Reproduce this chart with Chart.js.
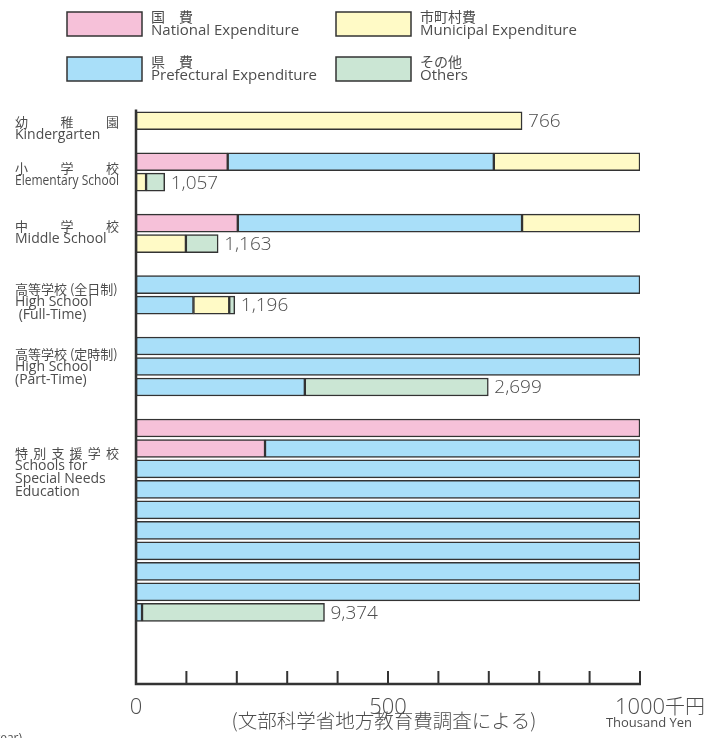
<!DOCTYPE html>
<html>
<head>
<meta charset="utf-8">
<script src="https://cdn.jsdelivr.net/npm/chart.js@4"></script>
<style>
  body { margin: 0; background: #fff; }
  canvas { display: block; }
</style>
</head>
<body>
<canvas id="chart" width="714" height="738"></canvas>
<script>
/* Data (千円 per pupil) */

const categories = ['幼稚園', '小学校', '中学校', '高等学校 (全日制)', '高等学校 (定時制)', '特別支援学校']
const categoriesEn = [
  ['Kindergarten'],
  ['Elementary School'],
  ['Middle School'],
  ['High School', ' (Full-Time)'],
  ['High School', '(Part-Time)'],
  ['Schools for', 'Special Needs', 'Education']
]
const national    = [0,   182, 202, 0,    0,    1256]
const prefectural = [0,   528, 564, 1114, 2335, 7756]
const municipal   = [766, 310, 333, 71,   0,    0]
const others      = [0,   37,  64,  11,   364,  362]
const totals      = [766, 1057, 1163, 1196, 2699, 9374]
const totalLabels = ['766', '1,057', '1,163', '1,196', '2,699', '9,374']
const xTicks      = [0, 100, 200, 300, 400, 500, 600, 700, 800, 900, 1000]
const xTickLabels = { 0: '0', 500: '500', 1000: '1000' }

const seriesNames = [
  ['国　費', 'National Expenditure'],
  ['県　費', 'Prefectural Expenditure'],
  ['市町村費', 'Municipal Expenditure'],
  ['その他', 'Others']
]
const seriesColors = ['#f6c1d9', '#a9dff9', '#fffac6', '#cbe6d4']

/* Rows: each bar is cut at 1000 and continues on the next row */

const rowWidth = 1000
const rowCounts = totals.map(t => Math.ceil(t / rowWidth))
const startSlots = []
let nextSlot = 0
rowCounts.forEach(n => {
  startSlots.push(nextSlot)
  nextSlot += n + 1
})
const slotCount = nextSlot + 2

const seriesValues = [national, prefectural, municipal, others]
const rowData = seriesValues.map(() => new Array(slotCount).fill(null))

categories.forEach((c, i) => {
  let slot = startSlots[i]
  let used = 0
  seriesValues.forEach((vals, s) => {
    let left = vals[i]
    while (left > 0) {
      const piece = Math.min(left, rowWidth - used)
      rowData[s][slot] = (rowData[s][slot] || 0) + piece
      left -= piece
      used += piece
      if (used >= rowWidth) { slot++; used = 0 }
    }
  })
})

/* Drawing */

const textColor = '#4d4d4d'
const lineColor = '#333'
const font = '"Open Sans", "Noto Sans CJK JP", sans-serif'
const jpFont = '"Noto Sans CJK JP", sans-serif'

const labelOffsets = [1, 6, 3, 4, 8, 25]   // first text line, from first row centre
const spreadLabel = [true, true, true, false, false, true]

function spreadText(ctx, text, x0, x1, y) {
  const chars = [...text]
  const w = ctx.measureText(chars[0]).width
  const step = (x1 - x0 - w) / (chars.length - 1)
  chars.forEach((ch, k) => ctx.fillText(ch, x0 + k * step, y))
}

const drawExtras = {
  id: 'drawExtras',
  afterDraw(chart) {
    const ctx = chart.ctx
    const xs = chart.scales.x
    const ys = chart.scales.y
    const area = chart.chartArea
    const x0 = xs.getPixelForValue(0)
    ctx.save()

    // axes
    ctx.strokeStyle = lineColor
    ctx.lineWidth = 2.5
    ctx.beginPath()
    ctx.moveTo(x0, area.top - 1)
    ctx.lineTo(x0, area.bottom)
    ctx.lineTo(xs.getPixelForValue(1000) + 1, area.bottom)
    ctx.stroke()
    ctx.lineWidth = 2
    xTicks.forEach(v => {
      const px = xs.getPixelForValue(v)
      ctx.beginPath()
      ctx.moveTo(px, area.bottom)
      ctx.lineTo(px, area.bottom - 13)
      ctx.stroke()
    })

    // tick labels
    ctx.fillStyle = textColor
    ctx.textBaseline = 'middle'
    ctx.font = '300 22px ' + font
    ctx.textAlign = 'center'
    Object.keys(xTickLabels).forEach(v => {
      ctx.fillText(xTickLabels[v], xs.getPixelForValue(+v), area.bottom + 24)
    })
    const w1000 = ctx.measureText('1000').width
    ctx.textAlign = 'left'
    ctx.font = '300 20px ' + jpFont
    ctx.fillText('千円', xs.getPixelForValue(1000) + w1000 / 2, area.bottom + 22)
    ctx.font = '13px ' + font
    ctx.textAlign = 'center'
    ctx.fillText('Thousand Yen', 649, area.bottom + 39)
    ctx.font = '300 19.5px ' + jpFont
    ctx.fillText('(文部科学省地方教育費調査による)', 384, area.bottom + 37)
    ctx.font = '12px ' + font
    ctx.textAlign = 'right'
    ctx.fillText('year)', 22, 739)

    // category labels
    ctx.textAlign = 'left'
    categories.forEach((c, i) => {
      let y = ys.getPixelForValue(startSlots[i]) + labelOffsets[i]
      ctx.font = '13px ' + jpFont
      if (spreadLabel[i]) spreadText(ctx, c, 15, 119, y)
      else ctx.fillText(c, 15, y, 106)
      ctx.font = '14px ' + font
      categoriesEn[i].forEach(line => {
        y += 13
        ctx.fillText(line, 15, y, 104)
      })
    })

    // totals
    ctx.font = '300 19px ' + font
    categories.forEach((c, i) => {
      const lastSlot = startSlots[i] + rowCounts[i] - 1
      const rest = totals[i] - (rowCounts[i] - 1) * rowWidth
      ctx.fillText(totalLabels[i], xs.getPixelForValue(rest) + 6, ys.getPixelForValue(lastSlot) + 1)
    })

    // legend
    const legendPos = [[67, 12], [67, 57], [336, 12], [336, 57]]
    seriesNames.forEach((names, s) => {
      const [lx, ly] = legendPos[s]
      ctx.fillStyle = seriesColors[s]
      ctx.fillRect(lx, ly, 75, 24)
      ctx.strokeStyle = lineColor
      ctx.lineWidth = 1.5
      ctx.strokeRect(lx, ly, 75, 24)
      ctx.fillStyle = textColor
      ctx.font = '14px ' + jpFont
      ctx.fillText(names[0], lx + 84, ly + 5)
      ctx.font = '15px ' + font
      ctx.fillText(names[1], lx + 84, ly + 19)
    })
    ctx.restore()
  }
}

const ctx = document.getElementById('chart').getContext('2d')
const myChart = new Chart(ctx, {
  type: 'bar',
  data: {
    labels: rowData[0].map((v, k) => 'row' + k),
    datasets: seriesValues.map((v, s) => ({
      label: seriesNames[s][1],
      data: rowData[s],
      backgroundColor: seriesColors[s],
      borderColor: lineColor,
      borderWidth: 1.5,
      borderSkipped: false,
      barThickness: 18
    }))
  },
  options: {
    indexAxis: 'y',
    responsive: false,
    animation: false,
    layout: {
      padding: { left: 136, right: 74, top: 110.5, bottom: 54 }
    },
    plugins: {
      legend: { display: false },
      tooltip: { enabled: false }
    },
    scales: {
      x: { type: 'linear', min: 0, max: 1000, stacked: true, display: false },
      y: { stacked: true, display: false }
    }
  },
  plugins: [drawExtras]
})
</script>
</body>
</html>
